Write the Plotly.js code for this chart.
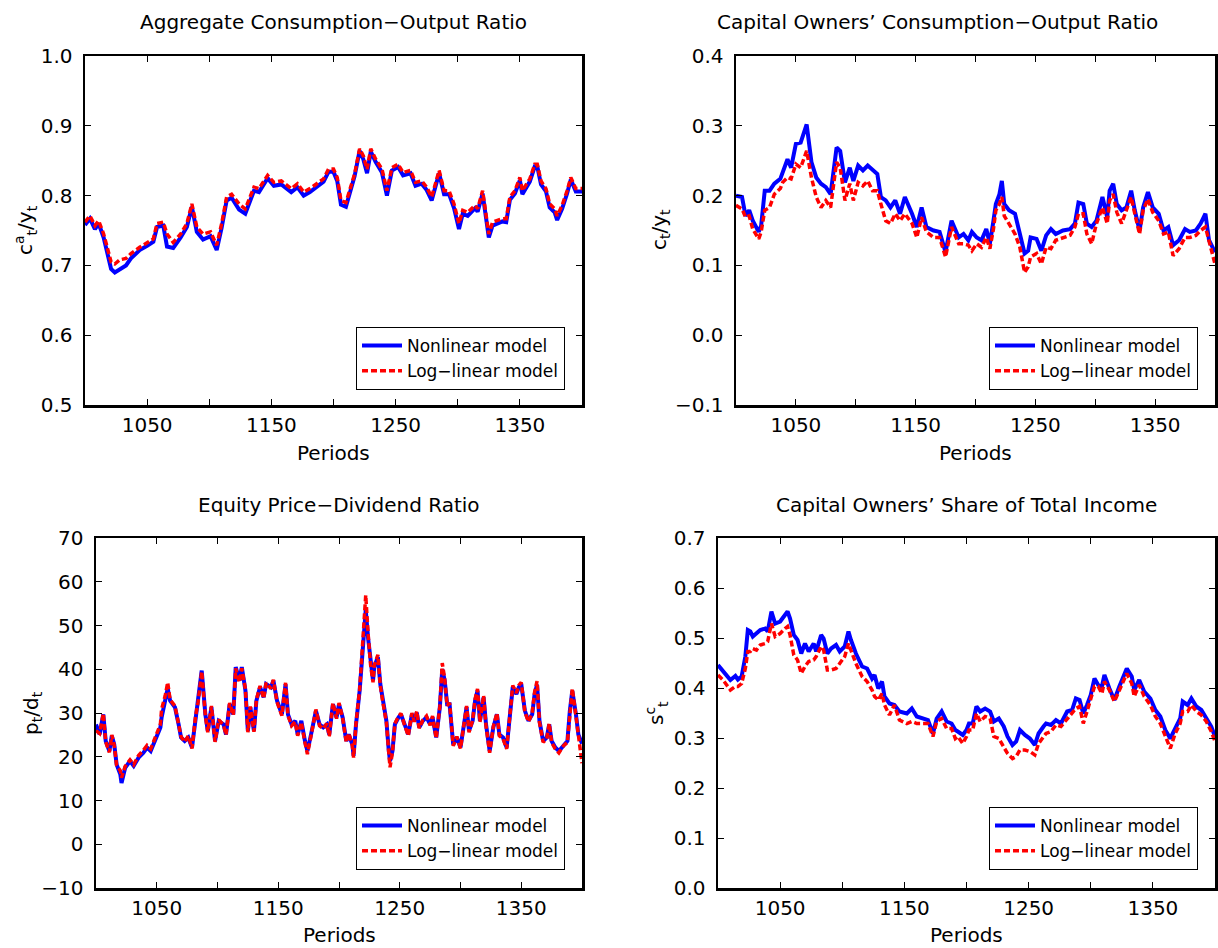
<!DOCTYPE html>
<html>
<head>
<meta charset="utf-8">
<script src="https://cdn.plot.ly/plotly-3.0.1.min.js"></script>
<style>
  html, body { margin: 0; padding: 0; background: #fff; }
  #chart { width: 1218px; height: 948px; }
</style>
</head>
<body>
<div id="chart"></div>
<script>
// Aggregate consumption-output ratio
const periodsAgg = [1000,1004,1008,1011,1015,1018,1021,1024,1028,1033,1037,1044,1050,1055,1058,1063,1066,1071,1077,1082,1086,1090,1095,1101,1106,1110,1114,1118,1124,1129,1136,1140,1147,1152,1158,1166,1171,1176,1181,1187,1192,1196,1200,1203,1206,1210,1214,1217,1221,1224,1227,1230,1234,1239,1243,1247,1252,1256,1262,1266,1271,1275,1279,1285,1289,1293,1297,1301,1304,1308,1314,1316,1320,1323,1325,1328,1332,1336,1339,1342,1346,1350,1352,1358,1362,1364,1367,1371,1374,1378,1380,1384,1388,1391,1395,1400];
const aggNonlinear = [0.758,0.767,0.752,0.760,0.740,0.720,0.695,0.690,0.695,0.700,0.710,0.722,0.728,0.734,0.755,0.757,0.727,0.725,0.740,0.755,0.784,0.748,0.737,0.742,0.722,0.754,0.793,0.797,0.780,0.774,0.807,0.805,0.825,0.814,0.816,0.805,0.812,0.800,0.805,0.813,0.820,0.834,0.834,0.821,0.787,0.784,0.808,0.828,0.864,0.852,0.832,0.863,0.848,0.833,0.800,0.836,0.841,0.829,0.832,0.814,0.817,0.808,0.793,0.832,0.802,0.802,0.782,0.752,0.774,0.771,0.782,0.777,0.803,0.765,0.740,0.757,0.760,0.763,0.762,0.794,0.803,0.822,0.802,0.820,0.842,0.842,0.816,0.806,0.783,0.776,0.765,0.781,0.803,0.823,0.806,0.806];
const aggLoglinear = [0.762,0.771,0.757,0.764,0.745,0.726,0.705,0.702,0.708,0.710,0.717,0.726,0.733,0.738,0.760,0.762,0.745,0.733,0.745,0.760,0.788,0.755,0.745,0.748,0.729,0.760,0.798,0.802,0.788,0.781,0.812,0.810,0.829,0.819,0.821,0.810,0.817,0.805,0.810,0.817,0.824,0.838,0.838,0.826,0.793,0.790,0.812,0.831,0.867,0.857,0.838,0.867,0.852,0.838,0.807,0.840,0.845,0.833,0.836,0.819,0.821,0.812,0.798,0.836,0.807,0.807,0.788,0.760,0.779,0.776,0.786,0.781,0.807,0.771,0.745,0.762,0.764,0.767,0.767,0.798,0.807,0.826,0.807,0.824,0.845,0.845,0.821,0.810,0.788,0.781,0.771,0.786,0.807,0.826,0.810,0.810];

// Capital owners' consumption-output ratio
const periodsCap = [1000,1005,1008,1011,1014,1019,1021,1024,1028,1032,1037,1039,1043,1046,1050,1054,1059,1063,1067,1071,1075,1079,1084,1087,1091,1095,1098,1102,1106,1110,1114,1118,1121,1125,1129,1133,1137,1141,1147,1151,1155,1159,1165,1170,1175,1180,
  1186,1190,1194,1197,1201,1205,1209,1212,1215,1217,1220,1222,1224,1228,1233,1237,1241,1244,1246,1251,1255,1259,1263,1267,1273,1279,1283,1286,1290,1293,1297,1301,1306,1310,1312,1315,1318,1322,1326,1330,1333,1337,1340,1344,1348,1353,1357,1361,1365,1370,1375,1379,1384,1388,1392,1395,1400];
const capNonlinear = [0.200,0.198,0.171,0.179,0.164,0.148,0.157,0.207,0.207,0.217,0.224,0.233,0.252,0.240,0.274,0.276,0.302,0.248,0.226,0.217,0.212,0.202,0.269,0.264,0.219,0.240,0.221,0.243,0.236,0.243,0.236,0.231,0.198,0.193,0.183,0.193,0.174,0.198,0.174,0.155,0.183,0.155,0.150,0.148,0.119,0.164,
  0.140,0.145,0.136,0.148,0.140,0.136,0.152,0.131,0.164,0.188,0.202,0.221,0.188,0.179,0.174,0.145,0.117,0.121,0.140,0.138,0.121,0.143,0.152,0.145,0.150,0.152,0.160,0.190,0.188,0.160,0.155,0.164,0.198,0.169,0.207,0.217,0.188,0.179,0.183,0.207,0.179,0.150,0.183,0.205,0.183,0.174,0.150,0.155,0.129,0.136,0.152,0.148,0.150,0.160,0.174,0.136,0.119];
const capLoglinear = [0.186,0.181,0.169,0.171,0.152,0.138,0.148,0.179,0.183,0.202,0.210,0.219,0.226,0.224,0.245,0.240,0.264,0.226,0.198,0.183,0.193,0.183,0.248,0.240,0.193,0.217,0.193,0.219,0.214,0.221,0.207,0.207,0.188,0.164,0.160,0.174,0.164,0.174,0.160,0.140,0.169,0.148,0.140,0.140,0.112,0.155,
  0.131,0.131,0.129,0.121,0.131,0.126,0.140,0.124,0.152,0.179,0.188,0.198,0.171,0.160,0.145,0.126,0.090,0.098,0.112,0.117,0.102,0.126,0.124,0.136,0.140,0.143,0.155,0.174,0.174,0.145,0.131,0.160,0.183,0.160,0.193,0.202,0.176,0.160,0.179,0.198,0.174,0.145,0.179,0.195,0.176,0.164,0.145,0.148,0.114,0.124,0.140,0.140,0.143,0.150,0.155,0.136,0.102];

// Equity price-dividend ratio
const periodsPd = [1000,1003,1006,1008,1011,1013,1015,1017,1020,1021,1024,1028,1031,1035,1039,1042,1045,1047,1050,1053,1054,1057,1059,1061,1065,1068,1070,1073,1076,1079,1082,1084,1087,1090,1092,1095,1098,1101,1105,1107,1110,1113,1115,1118,1120,1123,1125,1127,1130,1132,1135,1138,1140,1144,1146,1149,1153,1156,1158,1161,1164,1166,1169,1172,1174,1177,1181,1184,1187,1190,1192,
  1194,1195,1198,1200,1203,1206,1208,1211,1212,1214,1217,1218,1220,1222,1224,1226,1228,1229,1232,1234,1236,1239,1241,1242,1244,1246,1249,1251,1254,1257,1260,1262,1264,1266,1269,1272,1275,1277,1280,1283,1285,1287,1289,1291,1294,1297,1300,1303,1305,1307,1310,1312,1314,1316,1319,1321,1324,1327,1330,1332,1335,1338,1340,1343,1346,1348,1350,1353,1356,1359,1361,1363,1365,1368,1371,1373,1375,1378,1381,1385,1388,1390,1392,1395,1397,1400];
const pdNonlinear = [27.4,25.1,29.7,23.6,21.3,24.8,22.8,18.2,16.0,14.0,17.5,19.0,17.9,19.8,20.9,22.1,21.3,22.8,24.4,26.7,29.0,33.6,35.6,32.8,31.3,27.4,24.4,23.6,24.4,22.1,29.0,32.0,39.7,29.7,25.9,31.3,23.6,28.2,27.4,25.1,32.0,29.7,40.5,37.4,40.5,35.1,25.9,31.3,25.9,32.8,35.9,33.6,36.6,35.9,37.4,32.8,29.7,36.6,29.7,27.4,28.2,25.1,28.2,23.6,21.3,25.1,30.5,27.4,26.7,27.4,25.1,
  29.7,32.0,29.0,32.0,29.0,23.6,25.1,22.8,20.2,27.4,35.1,38.9,46.6,53.5,47.0,41.2,37.4,40.5,42.8,36.6,32.8,28.2,21.3,19.0,21.3,27.4,29.0,29.7,27.4,25.1,29.7,28.2,30.1,26.7,28.2,29.0,27.4,29.0,24.4,31.3,40.0,37.4,32.0,32.0,22.8,24.4,22.1,28.2,31.3,25.9,28.2,32.8,35.1,28.2,33.6,27.4,21.3,26.7,29.7,25.1,24.4,22.1,27.4,35.9,34.3,35.9,36.6,30.5,28.2,29.7,34.3,36.5,28.2,23.6,24.4,27.4,23.6,22.1,21.3,22.8,23.6,30.5,35.1,29.7,25.1,23.0];
const pdLoglinear = [26.0,25.3,29.9,23.4,21.0,25.0,22.6,18.0,16.8,15.2,17.8,19.3,18.2,20.3,21.5,22.6,21.8,23.3,25.0,27.4,30.9,34.0,37.0,33.0,31.6,27.2,24.6,23.4,24.8,21.9,29.4,32.4,39.5,29.5,25.6,31.6,23.4,28.5,27.2,25.0,32.3,29.5,40.2,37.0,40.2,35.4,25.6,31.5,25.7,33.0,36.2,33.3,36.9,35.6,37.6,32.5,29.4,36.9,29.4,27.1,28.0,24.8,27.9,23.2,20.6,24.8,30.8,27.1,26.4,27.6,24.7,
  29.9,32.3,28.7,32.3,28.8,23.3,25.4,22.5,19.8,27.6,35.4,39.4,47.5,56.9,48.0,41.0,37.0,40.8,43.3,36.3,32.6,27.9,20.8,17.6,21.0,27.6,29.2,29.9,27.2,24.8,30.0,28.0,30.4,26.5,28.4,29.3,27.2,29.3,24.2,31.5,41.4,37.8,31.7,32.3,22.5,24.6,21.9,28.5,31.6,25.6,28.4,33.2,35.5,27.9,34.0,27.1,20.9,26.9,30.0,24.8,24.1,21.8,27.7,36.3,34.6,36.3,37.0,30.2,28.0,30.0,34.8,37.3,27.9,23.3,24.1,27.6,23.3,21.8,20.9,22.6,23.3,30.8,35.6,29.4,24.4,18.5];

// Capital owners' share of total income
const periodsShare = [1000,1004,1007,1010,1014,1016,1019,1022,1024,1026,1028,1031,1034,1038,1040,1043,1046,1050,1054,1056,1058,1061,1064,1067,1070,1073,1077,1079,1083,1085,1088,1091,1095,1098,1102,1105,1107,1111,1116,1120,1124,1126,1129,1132,1134,1138,1142,1146,1152,1156,1160,1165,1169,1173,1176,1180,1184,
  1188,1191,1193,1197,1200,1202,1205,1208,1211,1215,1219,1222,1226,1230,1233,1237,1240,1243,1247,1251,1255,1258,1262,1264,1268,1272,1276,1281,1285,1288,1291,1294,1297,1300,1303,1306,1309,1311,1315,1319,1323,1326,1329,1333,1335,1339,1343,1348,1352,1356,1360,1364,1368,1372,1374,1378,1381,1385,1389,1393,1397,1400];
const shareNonlinear = [0.446,0.433,0.426,0.416,0.424,0.417,0.423,0.463,0.516,0.513,0.503,0.509,0.516,0.519,0.513,0.553,0.529,0.533,0.546,0.553,0.539,0.506,0.496,0.469,0.489,0.473,0.489,0.473,0.506,0.499,0.469,0.479,0.486,0.473,0.483,0.513,0.496,0.469,0.443,0.439,0.419,0.426,0.399,0.413,0.383,0.369,0.366,0.353,0.349,0.359,0.343,0.339,0.336,0.309,0.339,0.353,0.333,
  0.329,0.316,0.313,0.306,0.316,0.329,0.329,0.363,0.353,0.359,0.353,0.333,0.339,0.323,0.303,0.286,0.293,0.316,0.306,0.299,0.286,0.309,0.323,0.329,0.326,0.336,0.329,0.353,0.356,0.379,0.376,0.349,0.366,0.386,0.419,0.406,0.403,0.426,0.399,0.376,0.403,0.423,0.439,0.423,0.396,0.416,0.393,0.379,0.356,0.343,0.316,0.299,0.319,0.339,0.373,0.366,0.379,0.363,0.356,0.339,0.323,0.303];
const shareLoglinear = [0.426,0.416,0.406,0.396,0.403,0.403,0.409,0.439,0.473,0.473,0.479,0.476,0.486,0.489,0.493,0.529,0.503,0.509,0.519,0.523,0.506,0.466,0.456,0.429,0.443,0.453,0.456,0.463,0.483,0.476,0.436,0.436,0.439,0.449,0.463,0.489,0.476,0.449,0.423,0.413,0.396,0.383,0.376,0.389,0.366,0.346,0.366,0.336,0.329,0.333,0.329,0.329,0.329,0.303,0.333,0.339,0.319,
  0.319,0.299,0.303,0.289,0.303,0.316,0.316,0.349,0.333,0.343,0.339,0.303,0.299,0.283,0.269,0.259,0.263,0.276,0.276,0.273,0.266,0.289,0.303,0.309,0.313,0.326,0.323,0.339,0.349,0.359,0.363,0.329,0.353,0.376,0.403,0.403,0.389,0.413,0.396,0.373,0.396,0.416,0.429,0.409,0.383,0.406,0.383,0.366,0.343,0.329,0.303,0.279,0.309,0.329,0.353,0.353,0.366,0.353,0.346,0.333,0.313,0.293];

const xTickVals = [1050, 1150, 1250, 1350];

const W = 1218, H = 948;
const FONT = 'DejaVu Sans';

function px(x) { return x / W; }
function py(y) { return 1 - y / H; }

function xAxis(x0, x1, anchor) {
  return {
    domain: [px(x0), px(x1)], anchor: anchor, range: [1000, 1400],
    tickvals: xTickVals,
    ticks: 'inside', ticklen: 6, tickwidth: 1, tickcolor: '#000',
    minor: {tick0: 1000, dtick: 50, ticks: 'inside', ticklen: 6, tickwidth: 1, tickcolor: '#000', showgrid: false},
    showline: true, linewidth: 2.5, linecolor: '#000', mirror: 'ticks',
    showgrid: false, zeroline: false,
    tickfont: {family: FONT, size: 20, color: '#000'}
  };
}

function yAxis(y0, y1, anchor, range, dtick, fmt) {
  return {
    domain: [py(y1), py(y0)], anchor: anchor, range: range, dtick: dtick, tick0: 0,
    tickformat: fmt,
    ticks: 'inside', ticklen: 6, tickwidth: 1, tickcolor: '#000',
    showline: true, linewidth: 2.5, linecolor: '#000', mirror: 'ticks',
    showgrid: false, zeroline: false, ticklabelstandoff: 6,
    tickfont: {family: FONT, size: 20, color: '#000'}
  };
}

function pair(x, nonlin, loglin, xa, ya, legend) {
  return [
    {x: x, y: nonlin, xaxis: xa, yaxis: ya, legend: legend, type: 'scatter', mode: 'lines',
     name: 'Nonlinear model', line: {color: '#0000ff', width: 4}},
    {x: x, y: loglin, xaxis: xa, yaxis: ya, legend: legend, type: 'scatter', mode: 'lines',
     name: 'Log\u2212linear model', line: {color: '#ff0000', width: 3.5, dash: '6px,3px'}}
  ];
}

function legendBox(right, bottom) {
  return {
    x: px(right), y: py(bottom), xanchor: 'right', yanchor: 'bottom',
    bgcolor: '#fff', bordercolor: '#000', borderwidth: 1,
    itemwidth: 40, tracegroupgap: 0,
    font: {family: FONT, size: 17, color: '#000'}
  };
}

function label(text, x, y, size, angle) {
  return {
    text: text, x: px(x), y: py(y), xref: 'paper', yref: 'paper',
    xanchor: 'center', yanchor: 'middle', showarrow: false, textangle: angle || 0,
    font: {family: FONT, size: size, color: '#000'}
  };
}

const traces = [].concat(
  pair(periodsAgg, aggNonlinear, aggLoglinear, 'x', 'y', 'legend'),
  pair(periodsCap, capNonlinear, capLoglinear, 'x2', 'y2', 'legend2'),
  pair(periodsPd, pdNonlinear, pdLoglinear, 'x3', 'y3', 'legend3'),
  pair(periodsShare, shareNonlinear, shareLoglinear, 'x4', 'y4', 'legend4')
);

const layout = {
  width: W, height: H,
  margin: {l: 0, r: 0, t: 0, b: 0},
  paper_bgcolor: '#fff', plot_bgcolor: '#fff',
  font: {family: FONT, color: '#000'},
  showlegend: true,
  xaxis: xAxis(85, 582, 'y'),
  yaxis: yAxis(56, 405, 'x', [0.5, 1.0], 0.1, '.1f'),
  xaxis2: xAxis(736, 1215, 'y2'),
  yaxis2: yAxis(56, 405, 'x2', [-0.1, 0.4], 0.1, '.1f'),
  xaxis3: xAxis(96, 582, 'y3'),
  yaxis3: yAxis(538, 888, 'x3', [-10, 70], 10, 'd'),
  xaxis4: xAxis(718, 1215, 'y4'),
  yaxis4: yAxis(538, 888, 'x4', [0, 0.7], 0.1, '.1f'),
  legend: legendBox(565, 390),
  legend2: legendBox(1198, 390),
  legend3: legendBox(565, 870),
  legend4: legendBox(1198, 870),
  annotations: [
    label('Aggregate Consumption\u2212Output Ratio', 333, 22, 20),
    label('Capital Owners\u2019 Consumption\u2212Output Ratio', 937, 22, 20),
    label('Equity Price\u2212Dividend Ratio', 339, 505, 20),
    label('Capital Owners\u2019 Share of Total Income', 966, 505, 20),
    label('Periods', 333, 453, 20),
    label('Periods', 975, 453, 20),
    label('Periods', 339, 935, 20),
    label('Periods', 966, 935, 20),
    label('c<sup>a</sup><sub>t</sub>/y<sub>t</sub>', 25, 230, 20, -90),
    label('c<sub>t</sub>/y<sub>t</sub>', 660, 230, 20, -90),
    label('p<sub>t</sub>/d<sub>t</sub>', 32, 713, 20, -90),
    label('s<sup>c</sup><sub>t</sub>', 656, 713, 20, -90)
  ]
};

const config = {staticPlot: true, displayModeBar: false};

Plotly.newPlot('chart', traces, layout, config);
</script>
</body>
</html>
